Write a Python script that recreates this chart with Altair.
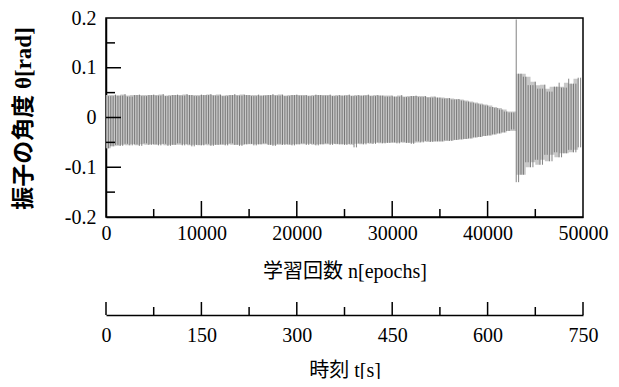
import altair as alt
import pandas as pd

# ---- data ----
# upper peaks at epochs 0, 500, ..., 49500
upper_epochs = list(range(0, 50000, 500))
upper_theta = [
    0.045, 0.043, 0.046, 0.044, 0.047, 0.042, 0.045, 0.046, 0.043, 0.045,
    0.046, 0.044, 0.047, 0.043, 0.045, 0.046, 0.044, 0.047, 0.045, 0.043,
    0.046, 0.045, 0.047, 0.044, 0.046, 0.043, 0.045, 0.047, 0.044, 0.046,
    0.045, 0.043, 0.046, 0.044, 0.045, 0.047, 0.044, 0.046, 0.043, 0.045,
    0.046, 0.044, 0.045, 0.043, 0.046, 0.045, 0.044, 0.046, 0.043, 0.045,
    0.044, 0.046, 0.043, 0.045, 0.044, 0.046, 0.043, 0.045, 0.044, 0.042,
    0.044, 0.042, 0.045, 0.041, 0.043, 0.044, 0.041, 0.043, 0.040, 0.042,
    0.040, 0.038, 0.039, 0.036, 0.037, 0.034, 0.032, 0.030, 0.028, 0.026,
    0.024, 0.021, 0.019, 0.016, 0.012, 0.010, 0.197, 0.088, 0.082, 0.065,
    0.072, 0.058, 0.066, 0.052, 0.062, 0.070, 0.060, 0.078, 0.068, 0.080,
]
# lower peaks at epochs 250, 750, ..., 49750
lower_epochs = list(range(250, 50000, 500))
lower_theta = [
    -0.062, -0.058, -0.055, -0.057, -0.053, -0.056, -0.054, -0.057, -0.052, -0.055,
    -0.054, -0.056, -0.053, -0.057, -0.055, -0.052, -0.056, -0.054, -0.058, -0.055,
    -0.056, -0.053, -0.057, -0.055, -0.054, -0.056, -0.052, -0.055, -0.057, -0.054,
    -0.053, -0.056, -0.054, -0.052, -0.055, -0.057, -0.053, -0.055, -0.054, -0.056,
    -0.054, -0.052, -0.055, -0.053, -0.056, -0.054, -0.052, -0.055, -0.053, -0.054,
    -0.055, -0.053, -0.060, -0.052, -0.054, -0.051, -0.053, -0.050, -0.052, -0.051,
    -0.050, -0.052, -0.049, -0.051, -0.053, -0.048, -0.050, -0.047, -0.049, -0.048,
    -0.048, -0.046, -0.047, -0.045, -0.044, -0.043, -0.042, -0.040, -0.039, -0.037,
    -0.036, -0.034, -0.032, -0.030, -0.027, -0.024, -0.130, -0.115, -0.090, -0.100,
    -0.085, -0.095, -0.075, -0.088, -0.070, -0.080, -0.072, -0.065, -0.070, -0.060,
]

x_major = [10000, 20000, 30000, 40000]
x_minor = [5000, 15000, 25000, 35000, 45000]
y_major = [-0.1, 0.0, 0.1]
y_minor = [-0.15, -0.05, 0.05, 0.15]
x_labels = [0, 10000, 20000, 30000, 40000, 50000]
y_labels = [-0.2, -0.1, 0.0, 0.1, 0.2]

t_major = [0, 150, 300, 450, 600, 750]
t_minor = [75, 225, 375, 525, 675]

N = len(upper_epochs)

# each swing drawn as a vertical stroke at its peak
strokes = []
for i in range(N):
    hi_next = upper_theta[i + 1] if i + 1 < N else upper_theta[i]
    strokes.append({"n": upper_epochs[i], "lo": lower_theta[i], "hi": upper_theta[i]})
    strokes.append({"n": lower_epochs[i], "lo": lower_theta[i],
                    "hi": min(upper_theta[i], hi_next)})
strokes = pd.DataFrame(strokes)


def med3(vals, i):
    a = vals[max(i - 1, 0)]
    b = vals[i]
    c = vals[min(i + 1, len(vals) - 1)]
    return sorted([a, b, c])[1]


# light grey body of the dense oscillation (isolated spikes left to the strokes)
band = pd.DataFrame({
    "n": upper_epochs,
    "hi": [med3(upper_theta, i) for i in range(N)],
    "lo": [med3(lower_theta, i) for i in range(N)],
})

W, H = 477, 199
SERIF = "Liberation Serif, Times New Roman, serif"
SERIF_CJK = "Liberation Serif, Noto Sans CJK JP"

xscale = alt.Scale(domain=[0, 50000], nice=False, zero=False)
yscale = alt.Scale(domain=[-0.2, 0.2], nice=False, zero=False)
tscale = alt.Scale(domain=[0, 750], nice=False, zero=False)

x_axis = alt.Axis(
    values=x_labels, format="d", ticks=False, tickSize=0, grid=False,
    labelFont=SERIF, labelFontSize=20, labelColor="black",
    labelPadding=6, labelFlush=False,
    title="学習回数 n[epochs]", titleFont=SERIF_CJK, titleFontSize=20,
    titleFontWeight="normal", titleColor="black",
    titleY=54, titleBaseline="middle",
    domainColor="black", domainWidth=1.5,
)
y_axis = alt.Axis(
    values=y_labels, ticks=False, tickSize=0, grid=False,
    labelExpr="datum.value == 0 ? '0' : replace(format(datum.value, '.1f'), '\u2212', '-')",
    labelFont=SERIF, labelFontSize=20, labelColor="black",
    labelPadding=10, labelFlush=False,
    title="振子の角度 θ[rad]", titleFont=SERIF_CJK, titleFontSize=23,
    titleFontWeight="bold", titleColor="black", titleAngle=-90,
    titleX=-83, titleY=100, titleAlign="center", titleBaseline="middle",
    domainColor="black", domainWidth=1.5,
)
t_axis = alt.Axis(
    values=t_major, format="d", ticks=False, tickSize=0, grid=False,
    orient="bottom", offset=98,
    labelFont=SERIF, labelFontSize=20, labelColor="black",
    labelPadding=10, labelFlush=False,
    title="時刻 t[s]", titleFont=SERIF_CJK, titleFontSize=20,
    titleFontWeight="normal", titleColor="black",
    titleY=55, titleBaseline="middle",
    domainColor="black", domainWidth=1.5,
)

X = lambda f: alt.X(f, type="quantitative", scale=xscale, axis=x_axis)
Y = lambda f: alt.Y(f, type="quantitative", scale=yscale, axis=y_axis)

area = alt.Chart(band).mark_area(color="#c8c8c8", opacity=1, interpolate="step-after").encode(
    x=X("n"), y=Y("hi"), y2="lo"
)
rules = alt.Chart(strokes).mark_rule(color="#626262", strokeWidth=0.8).encode(
    x=X("n"), y=Y("lo"), y2="hi"
)

xmaj = alt.Chart(pd.DataFrame({"n": x_major})).mark_rule(color="black", strokeWidth=1.5).encode(
    x=X("n"), y=alt.value(H), y2=alt.value(H - 16)
)
xmin = alt.Chart(pd.DataFrame({"n": x_minor})).mark_rule(color="black", strokeWidth=1.5).encode(
    x=X("n"), y=alt.value(H), y2=alt.value(H - 8)
)
ymaj = alt.Chart(pd.DataFrame({"v": y_major})).mark_rule(color="black", strokeWidth=1.5).encode(
    y=Y("v"), x=alt.value(0), x2=alt.value(15)
)
ymin = alt.Chart(pd.DataFrame({"v": y_minor})).mark_rule(color="black", strokeWidth=1.5).encode(
    y=Y("v"), x=alt.value(0), x2=alt.value(9)
)

main = alt.layer(area, rules, xmaj, xmin, ymaj, ymin)

TX = lambda f: alt.X(f, type="quantitative", scale=tscale, axis=t_axis)
tmaj = alt.Chart(pd.DataFrame({"t": t_major})).mark_rule(color="black", strokeWidth=1.5).encode(
    x=TX("t"), y=alt.value(H + 98), y2=alt.value(H + 98 - 13)
)
tmin = alt.Chart(pd.DataFrame({"t": t_minor})).mark_rule(color="black", strokeWidth=1.5).encode(
    x=TX("t"), y=alt.value(H + 98), y2=alt.value(H + 98 - 8)
)
second = alt.layer(tmaj, tmin)

chart = alt.layer(main, second).resolve_scale(x="independent").resolve_axis(x="independent").properties(
    width=W, height=H,
    padding={"left": 98, "top": 10, "right": 28, "bottom": 162},
    autosize=alt.AutoSizeParams(type="none"),
    background="white",
).configure_view(stroke="black", strokeWidth=1.5)

chart.save("out.html", embed_options={"renderer": "svg", "actions": False})
